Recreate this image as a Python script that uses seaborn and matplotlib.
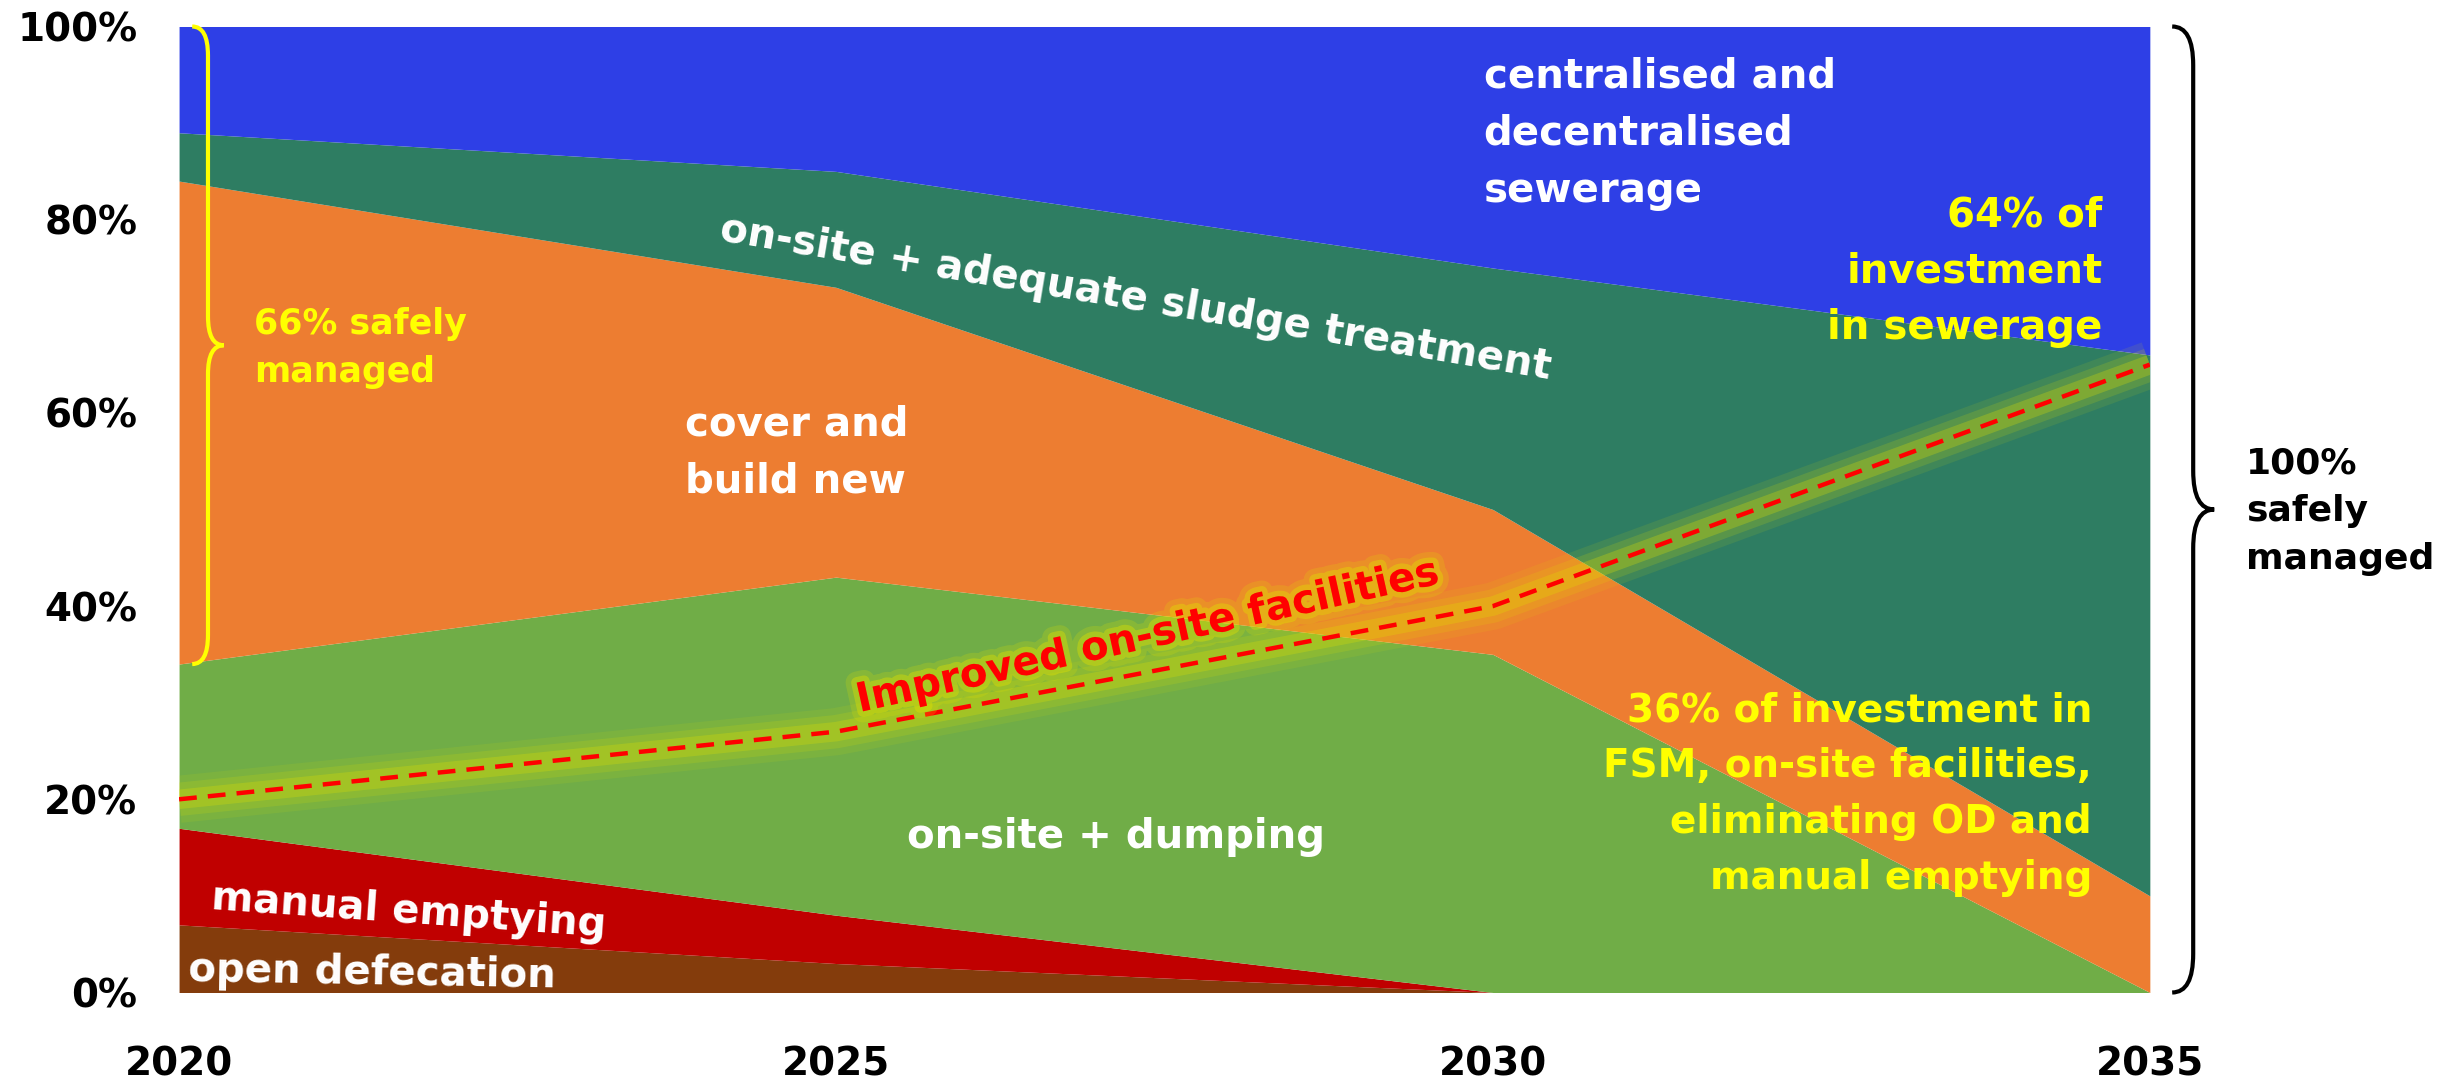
import numpy as np
import pandas as pd
import matplotlib.pyplot as plt
import seaborn as sns
from matplotlib.path import Path
from matplotlib.patches import PathPatch
import matplotlib.patheffects as pe

years = [2020, 2025, 2030, 2035]
open_defecation = [7, 3, 0, 0]
manual_emptying = [10, 5, 0, 0]
onsite_dumping = [17, 35, 35, 0]
cover_build_new = [50, 30, 15, 10]
onsite_sludge = [5, 12, 25, 56]
sewerage = [11, 15, 25, 34]
improved_onsite = [20, 27, 40, 65]
pct_ticks = [0, 20, 40, 60, 80, 100]

colours = ["#843C0C", "#C00000", "#70AD47", "#ED7D31", "#2E7D62", "#2E3FE6"]

sns.set_theme(style="white")
plt.rcParams["font.family"] = ["DejaVu Sans"]
plt.rcParams["font.weight"] = "bold"

fig = plt.figure(figsize=(24.43, 10.86), dpi=100)
ax = fig.add_axes([0.0733, 0.0861, 0.8067, 0.8895])

ax.stackplot(years, open_defecation, manual_emptying, onsite_dumping,
             cover_build_new, onsite_sludge, sewerage, colors=colours, linewidth=0)

# glow under the dashed line
for lw, a in [(34, 0.10), (24, 0.16), (14, 0.28)]:
    ax.plot(years, improved_onsite, color="#E0E000", lw=lw, alpha=a,
            solid_capstyle="butt", zorder=3)
sns.lineplot(x=years, y=improved_onsite, ax=ax, color="#FF0000", lw=3.2,
             linestyle=(0, (4, 2.5)), zorder=4)

ax.set_xlim(2020, 2035)
ax.set_ylim(0, 100)
ax.margins(0)
for s in ax.spines.values():
    s.set_visible(False)
ax.set_xticks(years)
ax.set_xticklabels([str(y) for y in years], fontsize=28, fontweight="bold", color="black")
ax.set_yticks(pct_ticks)
ax.set_yticklabels([f"{v}%" for v in pct_ticks], fontsize=28, fontweight="bold", color="black")
ax.tick_params(axis="x", length=0, pad=38)
ax.tick_params(axis="y", length=0, pad=30)
ax.set_xlabel("")
ax.set_ylabel("")


def brace(x, y0, y1, w, r, colour, lw):
    ym = (y0 + y1) / 2
    verts = [(x - w, y1), (x, y1), (x, y1 - r), (x, ym + r), (x, ym), (x + w, ym),
             (x, ym), (x, ym - r), (x, y0 + r), (x, y0), (x - w, y0)]
    codes = [Path.MOVETO, Path.CURVE3, Path.CURVE3, Path.LINETO, Path.CURVE3, Path.CURVE3,
             Path.CURVE3, Path.CURVE3, Path.LINETO, Path.CURVE3, Path.CURVE3]
    ax.add_patch(PathPatch(Path(verts, codes), fill=False, edgecolor=colour, lw=lw,
                           clip_on=False, zorder=6))


brace(2020.22, 34, 100, 0.12, 3, "#FFFF00", 3)
brace(2035.33, 0, 100, 0.16, 4, "black", 3)

white = dict(color="white", fontweight="bold", zorder=7)
yellow = dict(color="#FFFF00", fontweight="bold", zorder=7)

ax.text(2029.93, 88.9, "centralised and\ndecentralised\nsewerage", ha="left", va="center",
        fontsize=29, linespacing=1.55, **white)
ax.text(2027.28, 71.8, "on-site + adequate sludge treatment", ha="center", va="center",
        fontsize=29, rotation=-9.5, rotation_mode="anchor", **white)
ax.text(2023.85, 55.8, "cover and\nbuild new", ha="left", va="center",
        fontsize=29, linespacing=1.55, **white)
ax.text(2027.13, 16.1, "on-site + dumping", ha="center", va="center", fontsize=29, **white)
ax.text(2021.75, 8.4, "manual emptying", ha="center", va="center", fontsize=29,
        rotation=-4, rotation_mode="anchor", **white)
ax.text(2021.47, 2.0, "open defecation", ha="center", va="center", fontsize=29,
        rotation=-1, rotation_mode="anchor", **white)

ax.text(2027.37, 36.8, "Improved on-site facilities", ha="center", va="center",
        fontsize=29, rotation=12.5, rotation_mode="anchor", color="#FF0000",
        fontweight="bold", zorder=7,
        path_effects=[pe.Stroke(linewidth=16, foreground="#E0E000", alpha=0.2),
                      pe.Stroke(linewidth=8, foreground="#E0E000", alpha=0.4),
                      pe.Normal()])

ax.text(2020.57, 66.7, "66% safely\nmanaged", ha="left", va="center", fontsize=25,
        linespacing=1.52, **yellow)
ax.text(2034.64, 74.6, "64% of\ninvestment\nin sewerage", ha="right", va="center",
        fontsize=29, linespacing=1.52, **yellow)
ax.text(2034.56, 20.5, "36% of investment in\nFSM, on-site facilities,\n"
        "eliminating OD and\nmanual emptying", ha="right", va="center",
        fontsize=28, linespacing=1.6, **yellow)

ax.text(2035.73, 49.8, "100%\nsafely\nmanaged", ha="left", va="center", fontsize=26,
        linespacing=1.5, color="black", fontweight="bold", clip_on=False)

fig.savefig("out.png", dpi=100)
